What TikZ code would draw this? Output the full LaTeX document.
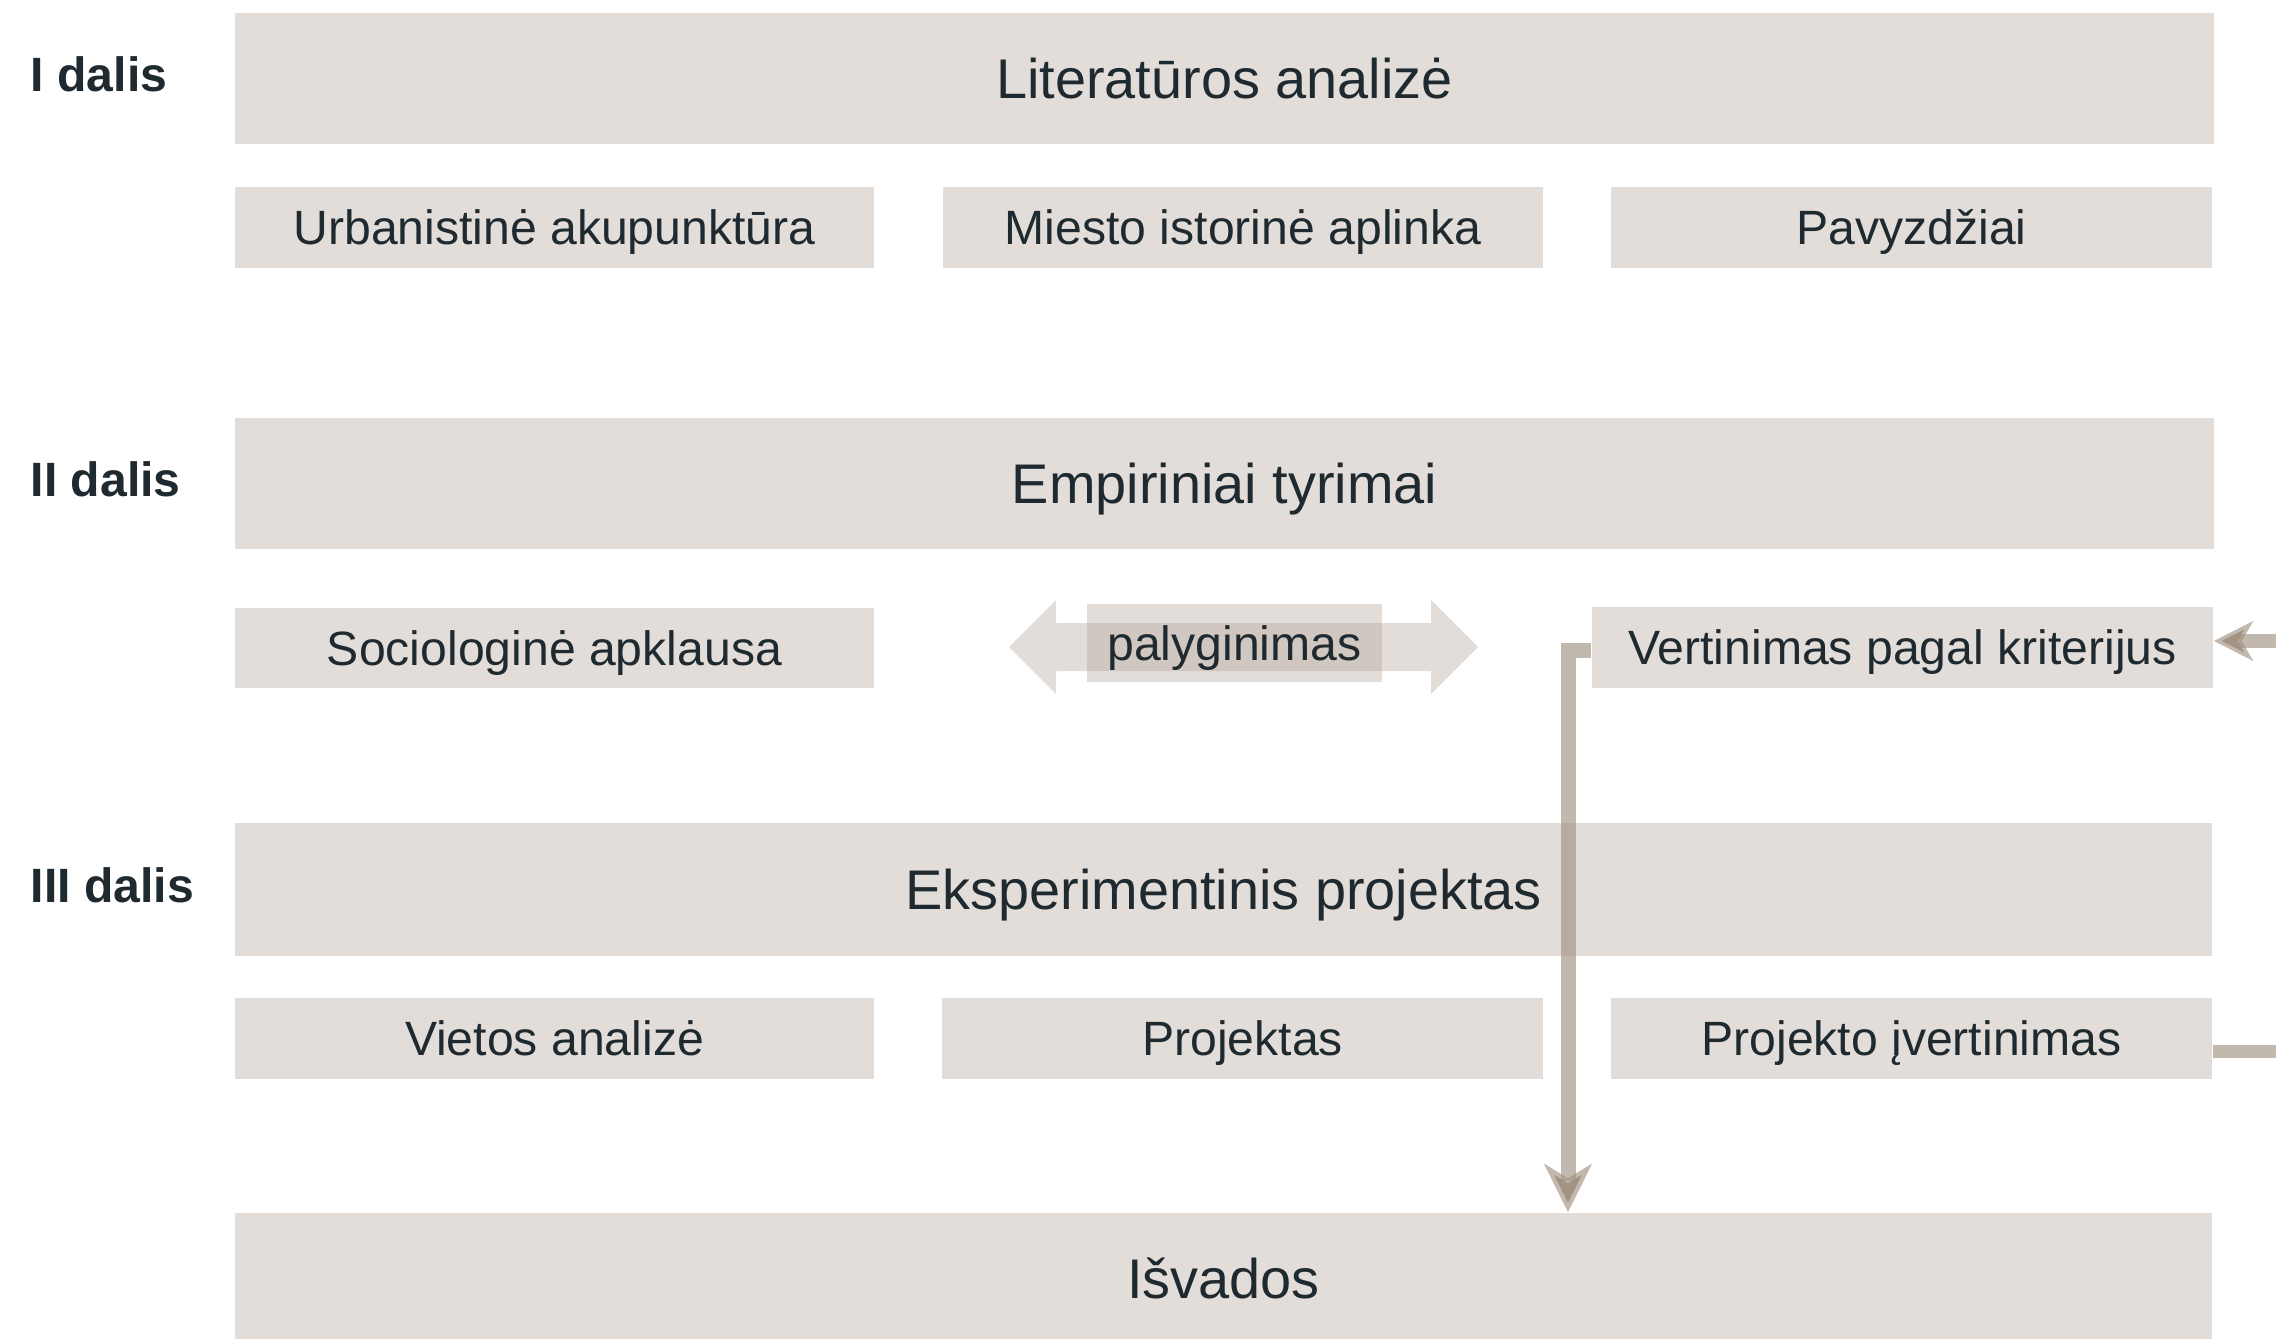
\documentclass[tikz,border=0pt]{standalone}
\usepackage{fontspec}
\setmainfont{Liberation Sans}
\usetikzlibrary{arrows.meta}
\definecolor{boxc}{RGB}{172,158,146}
\definecolor{linec}{RGB}{162,147,130}
\definecolor{txt}{RGB}{31,42,48}
\tikzset{
  box/.style={rectangle, draw=none, fill=boxc, fill opacity=0.35, text opacity=1, inner sep=0pt, text=txt},
  bigbox/.style={box, minimum height=13.1mm, font=\fontsize{15.9}{19}\selectfont, text height=11.4pt, text depth=0pt},
  smallbox/.style={box, minimum height=8.1mm, font=\fontsize{13.7}{16}\selectfont, text height=9.8pt, text depth=0pt},
  partlabel/.style={anchor=base west, inner sep=0pt, text=txt, font=\fontsize{13.7}{16}\selectfont\bfseries},
  conn/.style={draw=linec, draw opacity=0.65, line join=miter},
  tipdown/.style={-{Stealth[length=4.8mm,width=4.7mm,inset=1.4mm]}},
  tipleft/.style={-{Stealth[length=3.9mm,width=3.9mm,inset=1.1mm]}},
}
\begin{document}
\begin{tikzpicture}[x=0.1mm,y=-0.1mm]
\useasboundingbox (0,0) rectangle (2276,1338);
\clip (0,0) rectangle (2276,1338);

% part labels
\node[partlabel] (p1) at (30,91) {I dalis};
\node[partlabel] (p2) at (30,496) {II dalis};
\node[partlabel] (p3) at (30,902) {III dalis};

% part I
\node[bigbox, minimum width=197.9mm] (lit) at (1224.5,78.5) {Literatūros analizė};
\node[smallbox, minimum width=63.9mm] (urb) at (554.5,227.5) {Urbanistinė akupunktūra};
\node[smallbox, minimum width=60.0mm] (mies) at (1243,227.5) {Miesto istorinė aplinka};
\node[smallbox, minimum width=60.1mm] (pav) at (1911.5,227.5) {Pavyzdžiai};

% part II
\node[bigbox, minimum width=197.9mm] (emp) at (1224.5,483.5) {Empiriniai tyrimai};
\node[smallbox, minimum width=63.9mm, minimum height=8.0mm] (soc) at (554.5,648) {Sociologinė apklausa};
\node[smallbox, minimum width=62.1mm] (vert) at (1902.5,647.5) {Vertinimas pagal kriterijus};

% comparison double arrow
\fill[boxc, fill opacity=0.35] (1009,647) -- (1056,600) -- (1056,623) -- (1431,623) -- (1431,600)
  -- (1478,647) -- (1431,694) -- (1431,671) -- (1056,671) -- (1056,694) -- cycle;
\node[smallbox, minimum width=29.5mm, minimum height=7.8mm] (pal) at (1234.5,643) {palyginimas};

% part III
\node[bigbox, minimum width=197.7mm, minimum height=13.3mm] (eks) at (1223.5,889.5) {Eksperimentinis projektas};
\node[smallbox, minimum width=63.9mm] (viet) at (554.5,1038.5) {Vietos analizė};
\node[smallbox, minimum width=60.1mm] (proj) at (1242.5,1038.5) {Projektas};
\node[smallbox, minimum width=60.1mm] (projv) at (1911.5,1038.5) {Projekto įvertinimas};

% conclusions
\node[bigbox, minimum width=197.7mm] (isv) at (1223.5,1278.5) {Išvados};

% connectors
\coordinate (turn) at (1568,650);
\draw[conn, line width=1.5mm, tipdown] (vert.west |- turn) -- (turn) -- (turn |- isv.north);

\coordinate (rin) at (2290,641);
\draw[conn, line width=1.4mm, tipleft] (rin) -- (vert.east |- rin);

\coordinate (rout) at (2290,1051.5);
\draw[conn, line width=1.3mm] (projv.east |- rout) -- (rout);
\end{tikzpicture}
\end{document}
